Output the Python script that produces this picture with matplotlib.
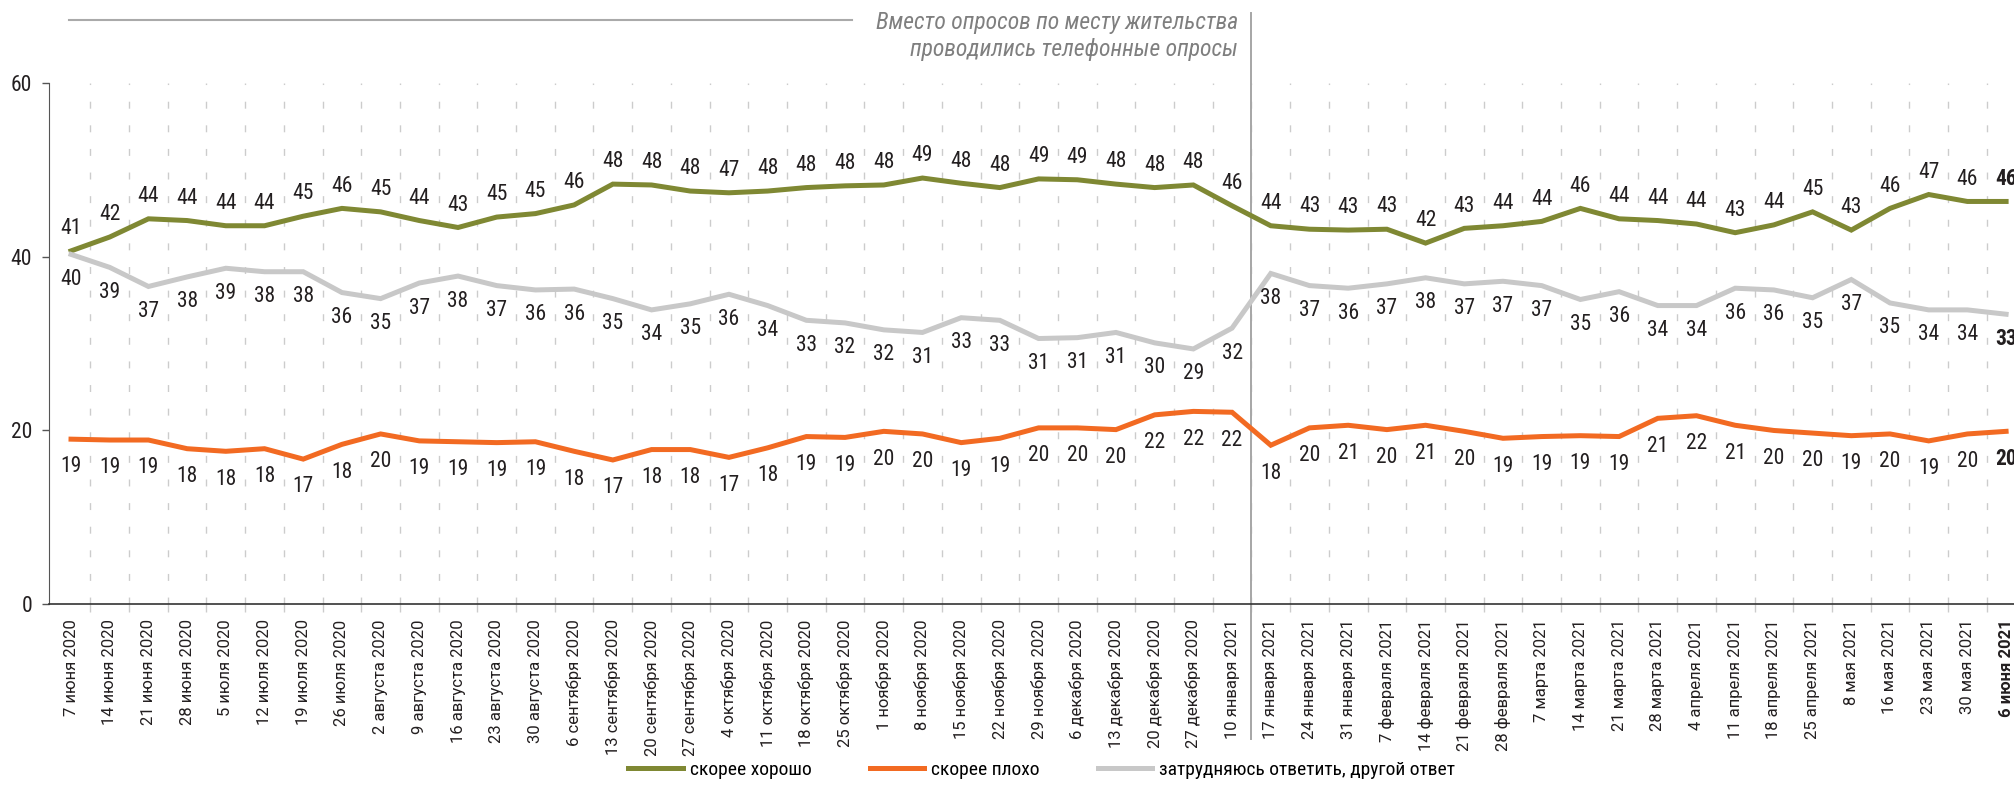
import numpy as np
import matplotlib
matplotlib.use('Agg')
from matplotlib import pyplot as plt
from matplotlib import font_manager
import matplotlib.transforms as mtransforms


def pick_font(names):
    for n in names:
        try:
            font_manager.findfont(n, fallback_to_default=False)
            return n
        except Exception:
            pass
    return 'DejaVu Sans'


narrow = pick_font(['Liberation Sans Narrow', 'Roboto Condensed', 'Liberation Sans'])
plain = pick_font(['Roboto', 'Noto Sans'])

# survey dates
dates = ['7 июня 2020', '14 июня 2020', '21 июня 2020', '28 июня 2020',
         '5 июля 2020', '12 июля 2020', '19 июля 2020', '26 июля 2020',
         '2 августа 2020', '9 августа 2020', '16 августа 2020', '23 августа 2020', '30 августа 2020',
         '6 сентября 2020', '13 сентября 2020', '20 сентября 2020', '27 сентября 2020',
         '4 октября 2020', '11 октября 2020', '18 октября 2020', '25 октября 2020',
         '1 ноября 2020', '8 ноября 2020', '15 ноября 2020', '22 ноября 2020', '29 ноября 2020',
         '6 декабря 2020', '13 декабря 2020', '20 декабря 2020', '27 декабря 2020',
         '10 января 2021', '17 января 2021', '24 января 2021', '31 января 2021',
         '7 февраля 2021', '14 февраля 2021', '21 февраля 2021', '28 февраля 2021',
         '7 марта 2021', '14 марта 2021', '21 марта 2021', '28 марта 2021',
         '4 апреля 2021', '11 апреля 2021', '18 апреля 2021', '25 апреля 2021',
         '8 мая 2021', '16 мая 2021', '23 мая 2021', '30 мая 2021', '6 июня 2021']

# скорее хорошо
good = [40.7, 42.3, 44.4, 44.2, 43.6, 43.6, 44.7, 45.6, 45.2, 44.2, 43.4, 44.6, 45.0,
        46.0, 48.4, 48.3, 47.6, 47.4, 47.6, 48.0, 48.2, 48.3, 49.1, 48.5, 48.0, 49.0,
        48.9, 48.4, 48.0, 48.3, 45.9, 43.6, 43.2, 43.1, 43.2, 41.6, 43.3, 43.6, 44.1,
        45.6, 44.4, 44.2, 43.8, 42.8, 43.7, 45.2, 43.1, 45.6, 47.2, 46.4, 46.4]
# скорее плохо
bad = [19.0, 18.9, 18.9, 17.9, 17.6, 17.9, 16.7, 18.4, 19.6, 18.8, 18.7, 18.6, 18.7,
       17.6, 16.6, 17.8, 17.8, 16.9, 18.0, 19.3, 19.2, 19.9, 19.6, 18.6, 19.1, 20.3,
       20.3, 20.1, 21.8, 22.2, 22.1, 18.3, 20.3, 20.6, 20.1, 20.6, 19.9, 19.1, 19.3,
       19.4, 19.3, 21.4, 21.7, 20.6, 20.0, 19.7, 19.4, 19.6, 18.8, 19.6, 19.9]
# затрудняюсь ответить, другой ответ
unsure = [40.3, 38.8, 36.6, 37.7, 38.7, 38.3, 38.3, 35.9, 35.2, 37.0, 37.8, 36.7, 36.2,
          36.3, 35.2, 33.9, 34.6, 35.7, 34.4, 32.7, 32.4, 31.6, 31.3, 33.0, 32.7, 30.6,
          30.7, 31.3, 30.1, 29.4, 31.8, 38.1, 36.7, 36.4, 36.9, 37.6, 36.9, 37.2, 36.7,
          35.1, 36.0, 34.4, 34.4, 36.4, 36.2, 35.3, 37.4, 34.7, 33.9, 33.9, 33.4]

series_names = ['скорее хорошо', 'скорее плохо', 'затрудняюсь ответить, другой ответ']
colors = ['#7f8833', '#f26a22', '#c8c8c8']

x = np.arange(len(dates))

fig = plt.figure(figsize=(20.15, 7.92), dpi=100)
ax = fig.add_axes([0.0243, 0.2374, 0.9757, 0.6572])

handles = []
for vals, c, name, off in [(good, colors[0], series_names[0], 16),
                           (bad, colors[1], series_names[1], -20),
                           (unsure, colors[2], series_names[2], -18)]:
    ln, = ax.plot(x, vals, color=c, lw=3.6, solid_joinstyle='miter', zorder=3, label=name)
    handles.append(ln)
    for i, v in enumerate(vals):
        ax.annotate(f'{v:.0f}', (x[i], v), xytext=(0, off), textcoords='offset points',
                    ha='center', va='center', fontsize=15.5, family=narrow, color='#231f20',
                    fontweight='bold' if i == len(vals) - 1 else 'normal', zorder=4,
                    annotation_clip=False)

ax.set_xlim(-0.57, 50.23)
ax.set_ylim(0, 60)

for s in ['top', 'right']:
    ax.spines[s].set_visible(False)
ax.spines['left'].set_bounds(0, 60)
ax.spines['left'].set_color('#555555')
ax.spines['bottom'].set_color('#333333')
ax.spines['bottom'].set_linewidth(1.2)

ax.set_yticks([0, 20, 40, 60])
ax.tick_params(axis='y', length=5, width=1, color='#555555', pad=7, labelsize=15.5)
for t in ax.get_yticklabels():
    t.set_family(narrow)
    t.set_color('#231f20')

ax.set_xticks(x)
ax.set_xticklabels(dates, rotation=90, fontsize=12, family=plain, color='#231f20')
ax.get_xticklabels()[-1].set_fontweight('bold')
ax.tick_params(axis='x', which='major', length=0, pad=11)
ax.set_xticks(np.arange(0.5, len(dates) - 1, 1), minor=True)
ax.tick_params(axis='x', which='minor', length=6, width=1, color='#cccccc')
ax.grid(which='minor', axis='x', color='#cccccc', lw=1, linestyle=(0, (5, 12)))

# separator between face-to-face and phone surveys
trans = mtransforms.blended_transform_factory(ax.transData, ax.transAxes)
ax.plot([30.5, 30.5], [-0.26, 1.135], transform=trans, color='#a6a6a6', lw=1.4,
        clip_on=False, zorder=2)
ax.plot([-0.05, 20.18], [1.121, 1.121], transform=trans, color='#aaaaaa', lw=1.5,
        clip_on=False)
ax.text(30.16, 1.118, 'Вместо опросов по месту жительства', transform=trans,
        ha='right', va='center', fontsize=17, style='italic', family=narrow, color='#7f7f7f')
ax.text(30.16, 1.066, 'проводились телефонные опросы', transform=trans,
        ha='right', va='center', fontsize=17, style='italic', family=narrow, color='#7f7f7f')

fig.legend(handles=handles, loc='center', bbox_to_anchor=(0.517, 0.028), ncol=3,
           frameon=False, handlelength=2.8, handletextpad=0.35, columnspacing=3.0,
           prop={'family': narrow, 'size': 14})

fig.savefig('out.png', dpi=100)
